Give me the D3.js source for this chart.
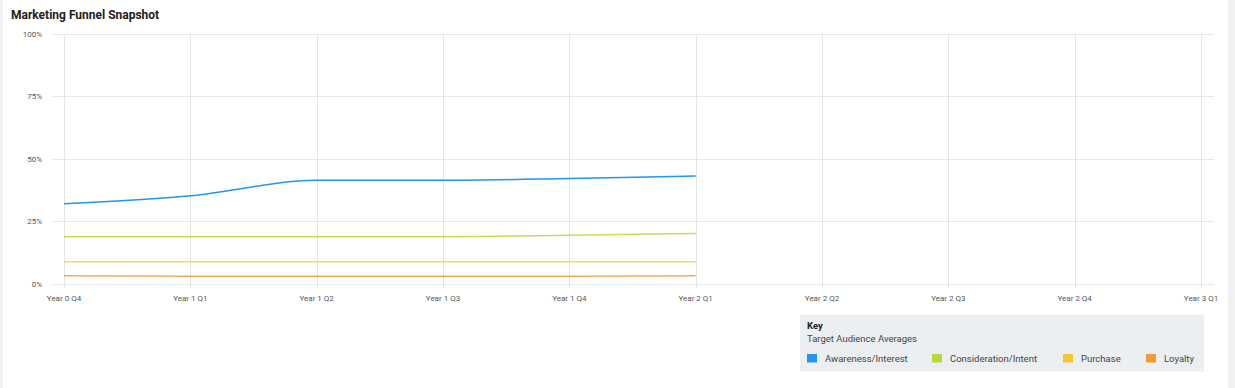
<!DOCTYPE html>
<html>
<head>
<meta charset="utf-8">
<script src="https://cdn.jsdelivr.net/npm/d3@7"></script>
<style>
  html, body { margin: 0; padding: 0; background: #eff1f3; }
  svg { display: block; font-family: Roboto, "Noto Sans", sans-serif; }
</style>
</head>
<body>
<svg id="chart" width="1235" height="388"></svg>
<script>
const title = "Marketing Funnel Snapshot";
const categories = ["Year 0 Q4", "Year 1 Q1", "Year 1 Q2", "Year 1 Q3", "Year 1 Q4", "Year 2 Q1", "Year 2 Q2", "Year 2 Q3", "Year 2 Q4", "Year 3 Q1"];
const yTicks = [0, 25, 50, 75, 100];
const seriesNames = ["Awareness/Interest", "Consideration/Intent", "Purchase", "Loyalty"];
const lineColors = ["#2196f3", "#b7d942", "#f6cf4a", "#f29a3c"];
const swatchColors = ["#2196f3", "#b8d83c", "#f4c531", "#f29a38"];
const awareness = [32.0, 35.2, 41.4, 41.4, 42.1, 43.1];
const consideration = [18.9, 18.9, 18.9, 18.9, 19.5, 20.2];
const purchase = [8.9, 8.9, 8.9, 8.9, 8.9, 8.9];
const loyalty = [3.3, 3.1, 3.1, 3.1, 3.1, 3.3];
const seriesValues = [awareness, consideration, purchase, loyalty];
const keyTitle = "Key";
const keySubtitle = "Target Audience Averages";

const svg = d3.select("#chart");
// card
svg.append("rect").attr("x", 3).attr("y", 0).attr("width", 1225).attr("height", 388).attr("fill", "#ffffff");

svg.append("text").attr("x", 11).attr("y", 19)
  .attr("font-size", 12).attr("font-weight", 700).attr("fill", "#212121").text(title);

const x = d3.scalePoint().domain(categories).range([64, 1201]);
const y = d3.scaleLinear().domain([0, 100]).range([284, 33.5]);

const g = svg.append("g");
// horizontal grid
g.selectAll("line.h").data(yTicks).join("line")
  .attr("x1", 52).attr("x2", 1214)
  .attr("y1", d => Math.round(y(d)) + 0.5).attr("y2", d => Math.round(y(d)) + 0.5)
  .attr("stroke", "#e8e8e8").attr("stroke-width", 1);
// vertical grid
g.selectAll("line.v").data(categories).join("line")
  .attr("x1", d => Math.round(x(d)) + 0.5).attr("x2", d => Math.round(x(d)) + 0.5)
  .attr("y1", y(100)).attr("y2", 288)
  .attr("stroke", "#e4e4e4").attr("stroke-width", 1);

// y labels
g.selectAll("text.y").data(yTicks).join("text")
  .attr("x", 42).attr("y", d => y(d) + 3)
  .attr("text-anchor", "end").attr("font-size", 8).attr("fill", "#555")
  .text(d => d + "%");
// x labels
g.selectAll("text.x").data(categories).join("text")
  .attr("x", d => x(d)).attr("y", 301)
  .attr("text-anchor", "middle").attr("font-size", 8).attr("fill", "#555")
  .text(d => d);

// lines
const line = d3.line().x((d, i) => x(categories[i])).y(d => y(d)).curve(d3.curveMonotoneX);
seriesValues.forEach((vals, si) => {
  svg.append("path").datum(vals)
    .attr("d", line)
    .attr("fill", "none")
    .attr("stroke", lineColors[si])
    .attr("stroke-width", 1.5)
    .attr("stroke-opacity", si === 0 ? 1 : 0.85);
});

// legend
const lg = svg.append("g");
lg.append("rect").attr("x", 800).attr("y", 314.5).attr("width", 404).attr("height", 57).attr("fill", "#eceff1");
lg.append("text").attr("x", 807).attr("y", 328.5).attr("font-size", 9.5).attr("font-weight", 700).attr("fill", "#212121").text(keyTitle);
lg.append("text").attr("x", 807).attr("y", 341.5).attr("font-size", 9.5).attr("fill", "#444").text(keySubtitle);
const itemX = [807, 932, 1063, 1146];
seriesNames.forEach((name, i) => {
  lg.append("rect").attr("x", itemX[i]).attr("y", 354).attr("width", 10).attr("height", 8.5).attr("fill", swatchColors[i]);
  lg.append("text").attr("x", itemX[i] + 18).attr("y", 361.5).attr("font-size", 9.5).attr("fill", "#444").text(name);
});
</script>
</body>
</html>
